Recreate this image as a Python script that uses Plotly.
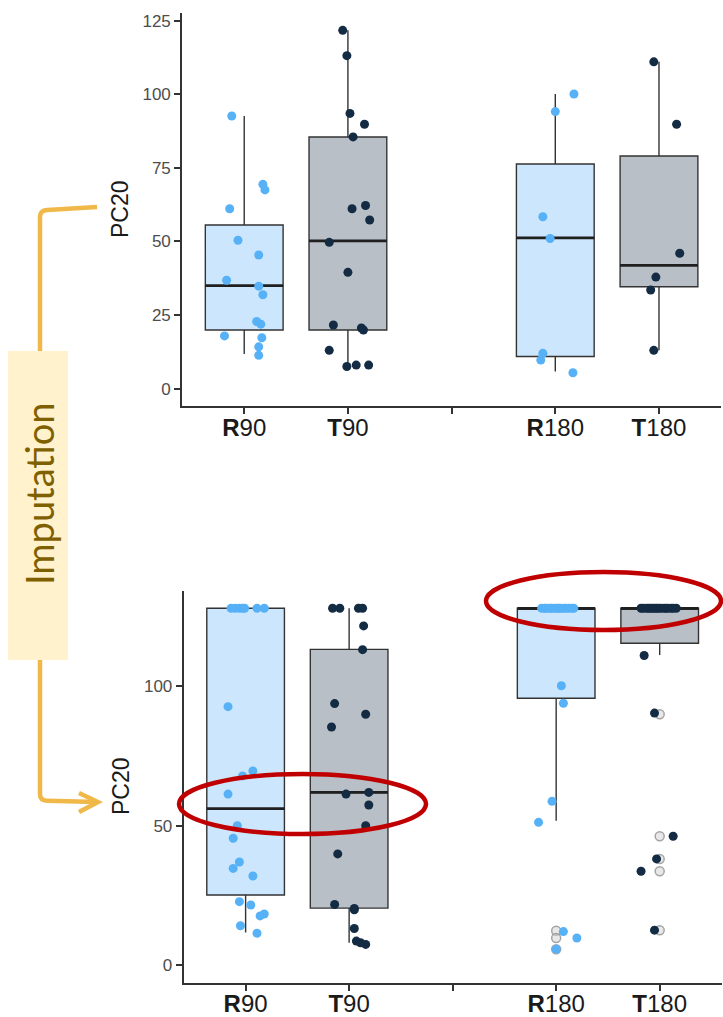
import numpy as np
import plotly.graph_objects as go

W, H = 723, 1017

# ---------------------------------------------------------------- categories
groups = ["R90", "T90", "R180", "T180"]
group_pos = [1, 2, 4, 5]                     # slot 3 is an empty spacer
tick_pos = [1, 2, 3, 4, 5]
tick_text = ["<b>R</b>90", "<b>T</b>90", "", "<b>R</b>180", "<b>T</b>180"]

# ---------------------------------------------------------------- top panel: observed PC20
top_r90 = [92.6, 69.4, 67.5, 61.1, 50.4, 45.4, 36.8, 34.8, 31.9, 22.8, 21.9, 17.9, 17.3, 14.2, 11.3]
top_r90_jit = [-0.12, 0.18, 0.20, -0.14, -0.06, 0.14, -0.17, 0.14, 0.18, 0.12, 0.16, -0.19, 0.17, 0.14, 0.14]
top_t90 = [121.7, 113.1, 93.5, 89.8, 85.5, 61.1, 62.2, 57.3, 49.7, 39.5, 21.6, 20.6, 19.9, 13.0, 7.5, 8.0, 8.0]
top_t90_jit = [-0.05, -0.01, 0.02, 0.16, 0.05, 0.04, 0.17, 0.21, -0.18, 0.00, -0.14, 0.13, 0.15, -0.18, -0.01, 0.08, 0.20]
top_r180 = [100.1, 94.1, 58.4, 51.0, 12.0, 9.7, 5.4]
top_r180_jit = [0.18, 0.00, -0.12, -0.05, -0.12, -0.14, 0.17]
top_t180 = [111.0, 89.8, 46.0, 37.9, 33.5, 13.0]
top_t180_jit = [-0.05, 0.17, 0.20, -0.03, -0.08, -0.05]

top_q1 = [19.9, 19.9, 10.9, 34.6]
top_median = [35.0, 50.2, 51.2, 41.9]
top_q3 = [55.6, 85.5, 76.3, 79.0]
top_lower = [11.8, 7.5, 5.8, 13.0]
top_upper = [92.6, 121.7, 100.1, 111.0]

# ---------------------------------------------------------------- bottom panel: imputed PC20 (cap = 127.8)
bot_r90 = [127.8] * 7 + [92.6, 69.6, 67.8, 61.3, 50.0, 45.5, 37.0, 34.7, 32.0, 22.8, 21.6, 17.7, 18.4, 14.2, 11.5]
bot_r90_jit = [-0.14, -0.10, -0.06, -0.03, -0.01, 0.11, 0.18,
               -0.17, 0.07, -0.03, -0.17, -0.08, -0.12, -0.06, -0.12, 0.07, -0.06, 0.05, 0.14, 0.18, -0.05, 0.11]
bot_t90 = [127.8] * 4 + [121.5, 113.0, 93.7, 89.9, 85.3, 61.3, 61.9, 57.4, 50.0, 39.9, 21.8, 20.4, 19.9, 13.2, 8.7, 8.1, 7.5]
bot_t90_jit = [-0.16, -0.09, 0.09, 0.13,
               0.14, 0.13, -0.14, 0.16, -0.17, -0.03, 0.19, 0.19, 0.16, -0.11, -0.14, 0.05, 0.05, 0.05, 0.07, 0.11, 0.16]
bot_r180 = [127.8] * 15 + [100.1, 93.8, 58.7, 51.2, 12.1, 9.8, 5.8]
bot_r180_jit = [-0.14, -0.11, -0.10, -0.07, -0.05, -0.04, -0.01, 0.01, 0.03, 0.04, 0.07, 0.09, 0.12, 0.15, 0.17,
                0.05, 0.07, -0.04, -0.17, 0.07, 0.20, 0.00]
bot_t180 = [127.8] * 16 + [110.9, 90.3, 46.2, 38.1, 33.7, 12.6]
bot_t180_jit = [-0.18, -0.16, -0.13, -0.11, -0.09, -0.07, -0.05, -0.03, -0.01, 0.01, 0.04, 0.06, 0.08, 0.11, 0.13, 0.16,
                -0.15, -0.05, 0.13, -0.03, -0.18, -0.05]

bot_q1 = [25.2, 20.5, 95.6, 115.3]
bot_median = [56.1, 61.9, 127.8, 127.8]
bot_q3 = [127.8, 113.1, 127.8, 127.8]
bot_lower = [11.8, 8.1, 51.8, 111.1]
bot_upper = [127.8, 127.8, 127.8, 127.8]

# box-plot outliers (drawn at the group centre)
bot_out_r180 = [12.4, 9.8, 5.8]
bot_out_t180 = [89.9, 46.2, 38.1, 33.7, 12.6]

# ---------------------------------------------------------------- styles
PT = {"R": "#56B1F7", "T": "#132B43"}
FILL = {"R": "rgba(86,177,247,0.30)", "T": "rgba(19,43,67,0.30)"}
EDGE = "#333333"
BOX_W = 0.75

fig = go.Figure()


def add_panel(xa, ya, q1, med, q3, lo, hi, pts, outliers):
    for i, g in enumerate(groups):
        k = g[0]
        p = group_pos[i]
        fig.add_trace(go.Box(
            x=[p], q1=[q1[i]], median=[med[i]], q3=[q3[i]],
            lowerfence=[lo[i]], upperfence=[hi[i]],
            width=BOX_W, whiskerwidth=0, boxpoints=False,
            fillcolor=FILL[k], line=dict(color=EDGE, width=1.4),
            xaxis=xa, yaxis=ya, showlegend=False, hoverinfo="skip"))
        # thicker median bar
        fig.add_trace(go.Scatter(
            x=[p - BOX_W / 2, p + BOX_W / 2], y=[med[i], med[i]], mode="lines",
            line=dict(color="#1f1f1f", width=2.8),
            xaxis=xa, yaxis=ya, showlegend=False, hoverinfo="skip"))
    for g, vals in outliers.items():
        p = group_pos[groups.index(g)]
        fig.add_trace(go.Scatter(
            x=[p] * len(vals), y=vals, mode="markers",
            marker=dict(size=9, color="rgba(210,210,210,0.5)",
                        line=dict(color="rgba(150,150,150,0.85)", width=1.5)),
            xaxis=xa, yaxis=ya, showlegend=False, hoverinfo="skip"))
    for g, (vals, jit) in pts.items():
        p = group_pos[groups.index(g)]
        fig.add_trace(go.Scatter(
            x=p + np.array(jit), y=vals, mode="markers",
            marker=dict(size=9, color=PT[g[0]], line=dict(width=0)),
            xaxis=xa, yaxis=ya, showlegend=False, hoverinfo="skip"))


add_panel("x", "y", top_q1, top_median, top_q3, top_lower, top_upper,
          {"R90": (top_r90, top_r90_jit), "T90": (top_t90, top_t90_jit),
           "R180": (top_r180, top_r180_jit), "T180": (top_t180, top_t180_jit)}, {})
add_panel("x2", "y2", bot_q1, bot_median, bot_q3, bot_lower, bot_upper,
          {"R90": (bot_r90, bot_r90_jit), "T90": (bot_t90, bot_t90_jit),
           "R180": (bot_r180, bot_r180_jit), "T180": (bot_t180, bot_t180_jit)},
          {"R180": bot_out_r180, "T180": bot_out_t180})


def px(x):
    return x / W


def py(y):
    return 1 - y / H


xaxis_common = dict(
    range=[0.4, 5.6], tickvals=tick_pos, ticktext=tick_text,
    showline=True, linecolor=EDGE, linewidth=1.6, mirror=False,
    ticks="outside", ticklen=6, tickwidth=1.5, tickcolor=EDGE,
    ticklabelstandoff=-7,
    showgrid=False, zeroline=False, automargin=False,
    tickfont=dict(family="Liberation Sans, Arial, sans-serif", size=24, color="#1a1a1a"),
)
yaxis_common = dict(
    showline=True, linecolor=EDGE, linewidth=1.6,
    ticks="outside", ticklen=6, tickwidth=1.5, tickcolor=EDGE,
    showgrid=False, zeroline=False, automargin=False,
    tickfont=dict(family="Liberation Sans, Arial, sans-serif", size=17, color="#4D4D4D"),
)

fig.update_layout(
    width=W, height=H, margin=dict(l=0, r=0, t=0, b=0),
    paper_bgcolor="white", plot_bgcolor="white", showlegend=False,
    boxmode="overlay",
    xaxis=dict(domain=[px(182), px(721.2)], anchor="y", **xaxis_common),
    yaxis=dict(domain=[py(406), py(13)], anchor="x", range=[-5.9, 127.6],
               tickvals=[0, 25, 50, 75, 100, 125], **yaxis_common),
    xaxis2=dict(domain=[px(183.5), px(721.8)], anchor="y2", **xaxis_common),
    yaxis2=dict(domain=[py(982.7), py(590.7)], anchor="x2", range=[-6.2, 134.1],
                tickvals=[0, 50, 100], **yaxis_common),
)

label_font = dict(family="Liberation Sans, Arial, sans-serif", size=23, color="#1a1a1a")
fig.add_annotation(x=px(120), y=py(209), xref="paper", yref="paper", text="PC20",
                   textangle=-90, showarrow=False, font=label_font, xanchor="center", yanchor="middle")
fig.add_annotation(x=px(121), y=py(786), xref="paper", yref="paper", text="PC20",
                   textangle=-90, showarrow=False, font=label_font, xanchor="center", yanchor="middle")

# imputation call-out on the left
GOLD = "#F0B848"
fig.add_shape(type="rect", xref="paper", yref="paper",
              x0=px(8), x1=px(68), y0=py(660), y1=py(351),
              fillcolor="#FFF2CC", line=dict(width=0), layer="above")
fig.add_annotation(x=px(39), y=py(494), xref="paper", yref="paper", text="Imputation",
                   textangle=-90, showarrow=False, xanchor="center", yanchor="middle",
                   font=dict(family="Lato, Open Sans, sans-serif", size=38, color="#7F6000"))
top_path = (f"M {px(40)},{py(351)} L {px(40)},{py(217)} "
            f"Q {px(40)},{py(210.5)} {px(47)},{py(210)} L {px(97)},{py(207)}")
bot_path = (f"M {px(40)},{py(660)} L {px(40)},{py(794)} "
            f"Q {px(40)},{py(800.5)} {px(47)},{py(800.8)} L {px(97)},{py(802)}")
head_path = f"M {px(79)},{py(793)} L {px(98)},{py(802)} L {px(79)},{py(812)}"
for pth in (top_path, bot_path, head_path):
    fig.add_shape(type="path", xref="paper", yref="paper", path=pth,
                  line=dict(color=GOLD, width=4.5), layer="above")

# red highlight ellipses
RED = "#C00000"
fig.add_shape(type="circle", xref="paper", yref="paper",
              x0=px(179), x1=px(426), y0=py(834), y1=py(774),
              line=dict(color=RED, width=4.5), layer="above")
fig.add_shape(type="circle", xref="paper", yref="paper",
              x0=px(486), x1=px(721), y0=py(630), y1=py(572),
              line=dict(color=RED, width=4.5), layer="above")

fig.write_html("out.html")
